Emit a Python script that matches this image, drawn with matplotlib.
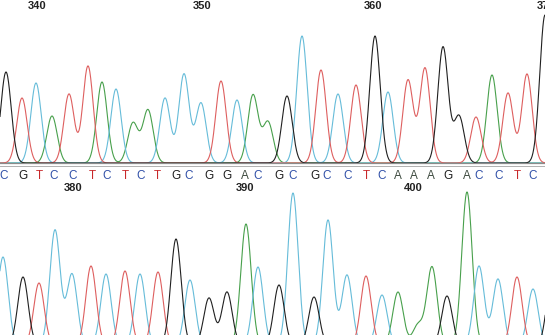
import numpy as np
import matplotlib
matplotlib.use('Agg')
import matplotlib.pyplot as plt

# peaks: scan position, height -- top row (bases 340-372)
top_black_x = [6, 287, 375, 443, 459, 545]
top_black_h = [91, 67, 127, 116, 47, 148]
top_red_x = [22, 69, 88, 221, 321, 356, 408, 425, 476, 508, 527]
top_red_h = [65, 69, 97, 82, 93, 78, 83, 95, 46, 70, 89]
top_cyan_x = [36, 116, 165, 184, 201, 237, 302, 338, 388]
top_cyan_h = [80, 74, 65, 89, 60, 63, 127, 69, 71]
top_green_x = [52, 102, 133, 148, 253, 268, 492]
top_green_h = [47, 81, 40, 53, 68, 41, 88]

# bottom row (bases 373-405)
bot_black_x = [23, 176, 209, 227, 279, 314, 447, 552]
bot_black_h = [68, 106, 47, 53, 60, 48, 49, 70]
bot_red_x = [39, 91, 125, 158, 366, 517]
bot_red_h = [62, 79, 74, 73, 69, 68]
bot_cyan_x = [3, 55, 72, 106, 140, 190, 258, 293, 328, 347, 382, 479, 498, 533]
bot_cyan_h = [88, 115, 71, 71, 71, 65, 78, 152, 125, 70, 50, 79, 66, 56]
bot_green_x = [246, 398, 418, 432, 467]
bot_green_h = [121, 53, 20, 78, 153]

bases = list("CGTCCTCTCTGCGGACGCGCCTCAAAGACCTC")
base_pos = [4, 23, 39, 54, 73, 92, 107, 125, 141, 157, 176, 189, 209, 227, 245, 258,
            279, 293, 315, 327, 348, 366, 382, 398, 414, 431, 448, 467, 479, 499, 517, 533]

top_labels = ['340', '350', '360', '370']
top_label_pos = [37, 202, 373, 546]
bot_labels = ['380', '390', '400']
bot_label_pos = [73, 245, 413]

colors = {'black': '#202020', 'red': '#de5f5f', 'cyan': '#66bcd9', 'green': '#48a04c'}
base_colors = {'A': '#3d4a3f', 'C': '#3050a8', 'G': '#1e1e1e', 'T': '#c8282a'}
sigma = 5.2

x = np.linspace(-10, 560, 2000)


def trace(px, ph):
    y = np.zeros_like(x)
    for p, h in zip(px, ph):
        y += h * np.exp(-(x - p) ** 2 / (2 * sigma ** 2))
    return y


W, H = 545, 335
fig = plt.figure(figsize=(W / 100, H / 100), dpi=100)

ax1 = fig.add_axes([0, (H - 167) / H, 1, 167 / H])
for name, px, ph in [('green', top_green_x, top_green_h), ('cyan', top_cyan_x, top_cyan_h),
                     ('red', top_red_x, top_red_h), ('black', top_black_x, top_black_h)]:
    ax1.plot(x, trace(px, ph), color=colors[name], lw=0.8)
ax1.axhline(0, color='#8a8a8a', lw=0.9)
ax1.axhline(-3, color='#b0b0b0', lw=0.7)
ax1.set_xlim(0, W)
ax1.set_ylim(-4, 163)
ax1.axis('off')

ax2 = fig.add_axes([0, 0, 1, 145 / H])
for name, px, ph in [('green', bot_green_x, bot_green_h), ('cyan', bot_cyan_x, bot_cyan_h),
                     ('red', bot_red_x, bot_red_h), ('black', bot_black_x, bot_black_h)]:
    ax2.plot(x, trace(px, ph), color=colors[name], lw=0.8)
ax2.set_xlim(0, W)
ax2.set_ylim(10, 155)
ax2.axis('off')

font = dict(family='Liberation Sans', fontsize=8, fontweight='bold')
for lab, p in zip(top_labels, top_label_pos):
    fig.text(p / W, 1 - 6 / H, lab, ha='center', va='center', color='#222222', **font)
for lab, p in zip(bot_labels, bot_label_pos):
    fig.text(p / W, 1 - 188 / H, lab, ha='center', va='center', color='#222222', **font)
for b, p in zip(bases, base_pos):
    fig.text(p / W, 1 - 176 / H, b, ha='center', va='center', color=base_colors[b],
             family='Liberation Sans', fontsize=8.5)

fig.savefig('out.png', dpi=100)
